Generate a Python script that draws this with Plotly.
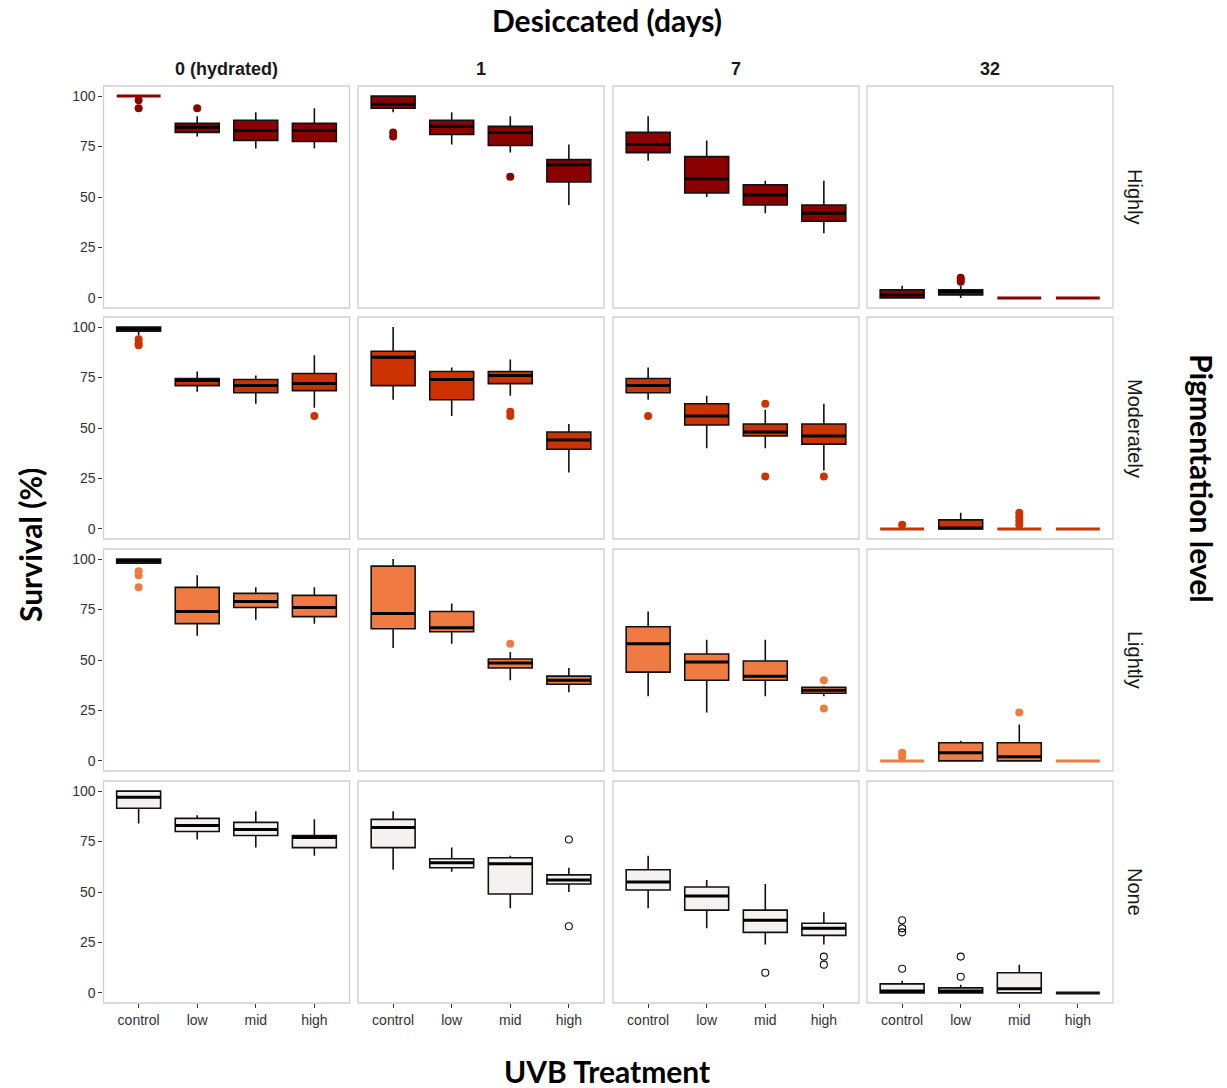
import plotly.graph_objects as go

W, H = 1227, 1088

CATEGORIES = ["control", "low", "mid", "high"]
DAYS = ["0 (hydrated)", "1", "7", "32"]
LEVELS = ["Highly", "Moderately", "Lightly", "None"]
COLORS = ["#8B0000", "#CC3300", "#EF7B42", "#F6F1F1"]

# stats per level: [day][treatment]
HIGHLY_LO  = [[100, 80, 74, 74], [92, 76, 72, 46], [68, 50, 42, 32], [0, 0, 0, 0]]
HIGHLY_Q1  = [[100, 82, 78, 77.5], [94, 81, 75.5, 57.5], [72, 52, 46, 38], [0, 1.5, 0, 0]]
HIGHLY_MED = [[100, 84.5, 83, 83], [96, 85, 82, 66], [76, 59, 51, 42], [1.5, 3, 0, 0]]
HIGHLY_Q3  = [[100, 86.5, 88, 86.5], [100, 88, 85, 68.5], [82, 70, 56, 46], [4, 4, 0, 0]]
HIGHLY_HI  = [[100, 90, 92, 94], [100, 92, 90, 76], [90, 78, 58, 58], [6, 6, 0, 0]]
HIGHLY_OUT = [[[98, 94], [94], [], []], [[82, 80], [], [60], []], [[], [], [], []], [[], [8, 9, 10], [], []]]

MOD_LO  = [[96, 68, 62, 60], [64, 56, 66, 28], [64, 40, 40, 29], [0, 0, 0, 0]]
MOD_Q1  = [[98, 71, 67.5, 68.5], [71, 64, 72, 39.5], [67.5, 51.5, 46, 42], [0, 0, 0, 0]]
MOD_MED = [[99, 73.5, 71, 72], [85, 74, 76, 44], [71, 56, 48, 46], [0, 0.5, 0, 0]]
MOD_Q3  = [[100, 74.5, 74, 77], [88, 78, 78, 48], [74.5, 62, 52, 52], [0, 4.5, 0, 0]]
MOD_HI  = [[100, 78, 76, 86], [100, 80, 84, 52], [80, 66, 59, 62], [0, 8, 0, 0]]
MOD_OUT = [[[94, 92, 91], [], [], [56]], [[], [], [58, 56], []], [[56], [], [62, 26], [26]], [[2], [], [2, 4, 6, 8], []]]

LIGHT_LO  = [[98, 62, 70, 68], [56, 58, 40, 34], [32, 24, 32, 32], [0, 0, 0, 0]]
LIGHT_Q1  = [[98, 68, 76, 71.5], [65.5, 64, 46, 38], [44, 40, 40, 33.5], [0, 0, 0, 0]]
LIGHT_MED = [[99, 74, 79, 76], [73, 66, 48.5, 40], [58, 49, 42, 35], [0, 4, 2, 0]]
LIGHT_Q3  = [[100, 86, 83, 82], [96.5, 74, 50.5, 42], [66.5, 53, 49.5, 36.5], [0, 9, 9, 0]]
LIGHT_HI  = [[100, 92, 86, 86], [100, 78, 54, 46], [74, 60, 60, 37], [0, 10, 18, 0]]
LIGHT_OUT = [[[94, 92, 86], [], [], []], [[], [], [58], []], [[], [], [], [40, 26]], [[2, 4], [], [24], []]]

NONE_LO  = [[84, 76, 72, 68], [61, 60, 42, 50], [42, 32, 24, 24], [0, 0, 0, 0]]
NONE_Q1  = [[91.5, 80, 78, 72], [72, 62, 49, 54], [51, 41, 30, 28.5], [0, 0, 0, 0]]
NONE_MED = [[97, 83, 81, 77], [82, 64.5, 64, 56], [55, 48, 36, 32], [1, 1, 2, 0]]
NONE_Q3  = [[100, 86.5, 84.5, 78], [86, 66.5, 67, 58.5], [61, 52.5, 41, 34.5], [4.5, 2.5, 10, 0]]
NONE_HI  = [[100, 88, 90, 86], [90, 72, 68, 62], [68, 56, 54, 40], [6, 4, 14, 0]]
NONE_OUT = [[[], [], [], []], [[], [], [], [76, 33]], [[], [], [10], [18, 14]], [[36, 32, 30, 12], [18, 8], [], []]]

STATS = [
    (HIGHLY_LO, HIGHLY_Q1, HIGHLY_MED, HIGHLY_Q3, HIGHLY_HI, HIGHLY_OUT),
    (MOD_LO, MOD_Q1, MOD_MED, MOD_Q3, MOD_HI, MOD_OUT),
    (LIGHT_LO, LIGHT_Q1, LIGHT_MED, LIGHT_Q3, LIGHT_HI, LIGHT_OUT),
    (NONE_LO, NONE_Q1, NONE_MED, NONE_Q3, NONE_HI, NONE_OUT),
]

COL_PX = [(103.5, 349.5), (358, 604), (613, 859), (867, 1113)]
ROW_PX = [(86, 308), (317, 539), (549, 771), (781, 1003)]
BOXW = 0.75

def px(x):
    return x / W

def py(y):
    return 1 - y / H

fig = go.Figure()
layout = {}
shapes = []
annotations = []
TICKFONT = dict(family="Liberation Sans, Arial", size=14, color="#333333")

for r, level in enumerate(LEVELS):
    lo_a, q1_a, med_a, q3_a, hi_a, out_a = STATS[r]
    color = COLORS[r]
    for c, day in enumerate(DAYS):
        n = r * 4 + c + 1
        xa = "x" if n == 1 else f"x{n}"
        ya = "y" if n == 1 else f"y{n}"
        for i, cat in enumerate(CATEGORIES):
            lo, q1, med, q3, hi = lo_a[c][i], q1_a[c][i], med_a[c][i], q3_a[c][i], hi_a[c][i]
            flat = (q1 == q3)
            if flat:
                lc = "#111111" if r == 3 else color
                lw = 3
            else:
                lc = "#111111"
                lw = 1.6
            fig.add_trace(go.Box(
                x=[i], q1=[q1], median=[med], q3=[q3], lowerfence=[lo], upperfence=[hi],
                width=BOXW, whiskerwidth=0, fillcolor=color,
                line=dict(color=lc, width=lw), boxpoints=False,
                xaxis=xa, yaxis=ya, showlegend=False, hoverinfo="skip"))
            if not flat:
                fig.add_trace(go.Scatter(
                    x=[i - BOXW / 2, i + BOXW / 2], y=[med, med], mode="lines",
                    line=dict(color="#000000", width=3), xaxis=xa, yaxis=ya,
                    showlegend=False, hoverinfo="skip"))
            outs = out_a[c][i]
            if outs:
                if r == 3:
                    mk = dict(symbol="circle-open", size=7, color="#111111", line=dict(width=1.1, color="#111111"))
                else:
                    mk = dict(symbol="circle", size=8, color=color)
                fig.add_trace(go.Scatter(
                    x=[i] * len(outs), y=outs, mode="markers", marker=mk,
                    xaxis=xa, yaxis=ya, showlegend=False, hoverinfo="skip"))

        xd = [px(COL_PX[c][0]), px(COL_PX[c][1])]
        yd = [py(ROW_PX[r][1]), py(ROW_PX[r][0])]
        xkey = "xaxis" if n == 1 else f"xaxis{n}"
        ykey = "yaxis" if n == 1 else f"yaxis{n}"
        bottom = (r == 3)
        left = (c == 0)
        layout[xkey] = dict(
            domain=xd, anchor=ya, range=[-0.6, 3.6],
            tickmode="array", tickvals=[0, 1, 2, 3], ticktext=CATEGORIES,
            showticklabels=bottom, ticks="outside" if bottom else "",
            ticklen=4, tickcolor="#333333", tickfont=TICKFONT,
            showgrid=False, zeroline=False, showline=False, fixedrange=True)
        layout[ykey] = dict(
            domain=yd, anchor=xa, range=[-5, 105],
            tickmode="array", tickvals=[0, 25, 50, 75, 100],
            showticklabels=left, ticks="outside" if left else "",
            ticklen=4, tickcolor="#333333", tickfont=TICKFONT,
            showgrid=False, zeroline=False,
            showline=left, linecolor="#333333", linewidth=1.2, fixedrange=True)
        shapes.append(dict(
            type="rect", xref=f"{xa} domain", yref=f"{ya} domain",
            x0=0, x1=1, y0=0, y1=1, line=dict(color="#CFCFCF", width=1.3),
            fillcolor="rgba(0,0,0,0)", layer="above"))

# column strip labels
for c, day in enumerate(DAYS):
    annotations.append(dict(
        text=f"<b>{day}</b>", x=px((COL_PX[c][0] + COL_PX[c][1]) / 2), y=py(69),
        xref="paper", yref="paper", showarrow=False, xanchor="center", yanchor="middle",
        font=dict(family="Liberation Sans, Arial", size=18, color="#1A1A1A")))
# row strip labels
for r, level in enumerate(LEVELS):
    annotations.append(dict(
        text=level, x=px(1135), y=py((ROW_PX[r][0] + ROW_PX[r][1]) / 2),
        xref="paper", yref="paper", showarrow=False, xanchor="center", yanchor="middle",
        textangle=90, font=dict(family="Liberation Sans, Arial", size=20, color="#1A1A1A")))

TITLEFONT = dict(family="Lato, Open Sans, sans-serif", size=30, color="#000000")
annotations += [
    dict(text="<b>Desiccated (days)</b>", x=px(607), y=py(20), xref="paper", yref="paper",
         showarrow=False, xanchor="center", yanchor="middle", font=TITLEFONT),
    dict(text="<b>UVB Treatment</b>", x=px(607), y=py(1071), xref="paper", yref="paper",
         showarrow=False, xanchor="center", yanchor="middle", font=TITLEFONT),
    dict(text="<b>Survival (%)</b>", x=px(30), y=py(545), xref="paper", yref="paper",
         showarrow=False, xanchor="center", yanchor="middle", textangle=-90, font=TITLEFONT),
    dict(text="<b>Pigmentation level</b>", x=px(1202), y=py(478), xref="paper", yref="paper",
         showarrow=False, xanchor="center", yanchor="middle", textangle=90, font=TITLEFONT),
]

fig.update_layout(
    width=W, height=H, margin=dict(l=0, r=0, t=0, b=0),
    paper_bgcolor="white", plot_bgcolor="white",
    shapes=shapes, annotations=annotations, showlegend=False, **layout)

fig.write_html("out.html")
